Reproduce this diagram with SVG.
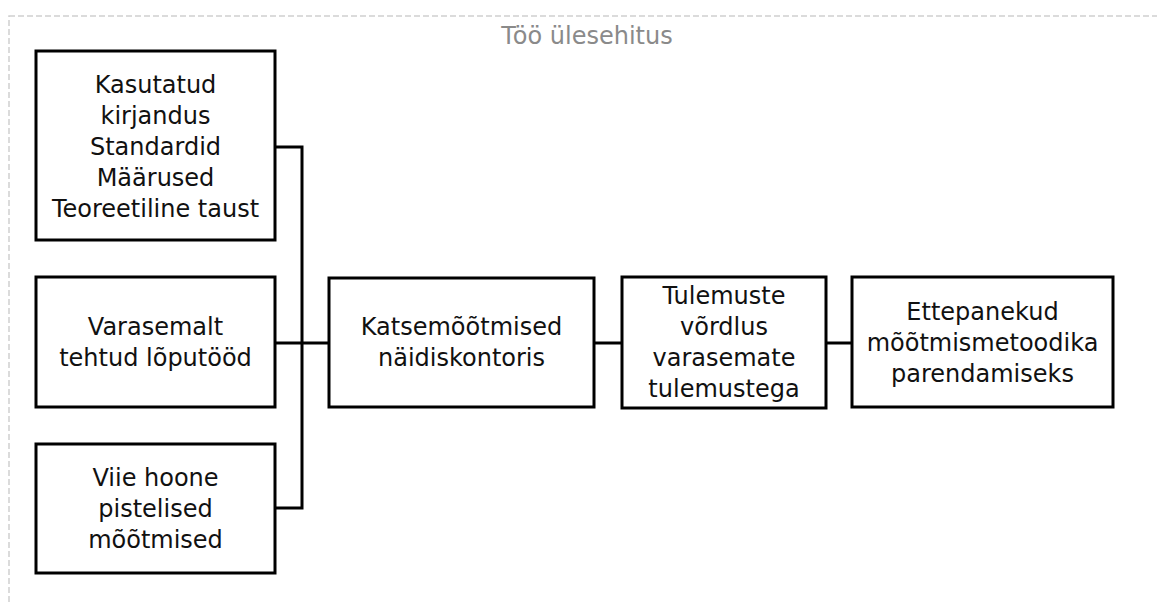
<svg xmlns="http://www.w3.org/2000/svg" width="1157" height="603" viewBox="0 0 1157 603">
<style>
.box{fill:#fff;stroke:#000;stroke-width:3}
.t{font-family:"DejaVu Sans",Verdana,sans-serif;font-size:24px;fill:#111;text-anchor:middle}
.title{font-family:"DejaVu Sans",Verdana,sans-serif;font-size:24px;fill:#8a8a8a;text-anchor:middle}
.c{fill:none;stroke:#000;stroke-width:3}
</style>
<rect width="1157" height="603" fill="#fff"/>
<rect x="9" y="16" width="1160" height="600" fill="none" stroke="#d0d0d0" stroke-width="1.5" stroke-dasharray="6 3"/>
<text class="title" x="587" y="44">Töö ülesehitus</text>
<g id="connectors">
<polyline class="c" points="275,147 302,147 302,508 275,508"/>
<line class="c" x1="275" y1="343" x2="329" y2="343"/>
<line class="c" x1="594" y1="343" x2="622" y2="343"/>
<line class="c" x1="826" y1="343" x2="852" y2="343"/>
</g>
<g id="n1">
<rect class="box" x="36" y="51" width="239" height="189"/>
<text class="t"><tspan x="155.5" y="93">Kasutatud</tspan><tspan x="155.5" y="124">kirjandus</tspan><tspan x="155.5" y="155">Standardid</tspan><tspan x="155.5" y="186">Määrused</tspan><tspan x="155.5" y="217">Teoreetiline taust</tspan></text>
</g>
<g id="n2">
<rect class="box" x="36" y="277" width="239" height="130"/>
<text class="t"><tspan x="155.5" y="335">Varasemalt</tspan><tspan x="155.5" y="366">tehtud lõputööd</tspan></text>
</g>
<g id="n3">
<rect class="box" x="36" y="444" width="239" height="129"/>
<text class="t"><tspan x="155.5" y="486">Viie hoone</tspan><tspan x="155.5" y="517">pistelised</tspan><tspan x="155.5" y="548">mõõtmised</tspan></text>
</g>
<g id="n4">
<rect class="box" x="329" y="278" width="265" height="129"/>
<text class="t"><tspan x="461.5" y="335">Katsemõõtmised</tspan><tspan x="461.5" y="366">näidiskontoris</tspan></text>
</g>
<g id="n5">
<rect class="box" x="622" y="277" width="204" height="131"/>
<text class="t"><tspan x="724" y="304">Tulemuste</tspan><tspan x="724" y="335">võrdlus</tspan><tspan x="724" y="366">varasemate</tspan><tspan x="724" y="397">tulemustega</tspan></text>
</g>
<g id="n6">
<rect class="box" x="852" y="277" width="261" height="130"/>
<text class="t"><tspan x="982.5" y="320">Ettepanekud</tspan><tspan x="982.5" y="351">mõõtmismetoodika</tspan><tspan x="982.5" y="382">parendamiseks</tspan></text>
</g>
</svg>
